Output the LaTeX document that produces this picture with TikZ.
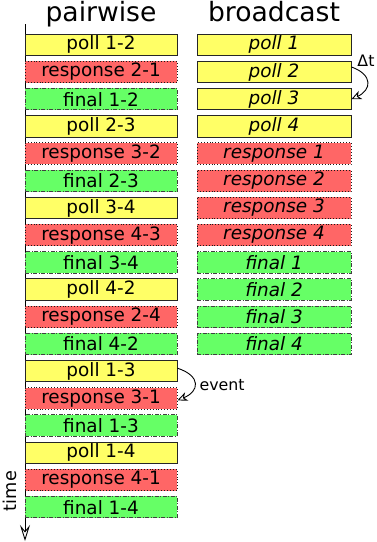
\documentclass[tikz,border=0pt]{standalone}
\usepackage{fontspec}
\setmainfont{DejaVu Sans}
\usetikzlibrary{arrows.meta}
\definecolor{pollc}{RGB}{255,255,102}
\definecolor{respc}{RGB}{255,102,102}
\definecolor{finc}{RGB}{102,255,102}
\tikzset{
  box/.style={minimum height=21.5pt, inner sep=0pt, font=\fontsize{18.4}{19}\selectfont},
  lbox/.style={box, minimum width=152pt},
  rbox/.style={box, minimum width=154pt, font=\fontsize{18.4}{19}\selectfont\itshape},
  pollbox/.style={fill=pollc, draw=black!85, line width=0.9pt},
  respbox/.style={fill=respc, draw=black!90, line width=0.9pt, dotted},
  finbox/.style={fill=finc, draw=black!75, line width=0.9pt, dash pattern=on 4pt off 1.5pt on 1pt off 1.5pt},
  title/.style={font=\fontsize{26.6}{28}\selectfont, anchor=base},
  note/.style={font=\fontsize{15.8}{17}\selectfont},
  curvearr/.style={line width=0.9pt, -{Stealth[open, length=10pt, width=9pt, inset=3pt]}},
}
\begin{document}
\begin{tikzpicture}[x=1pt, y=-1pt]
\useasboundingbox (0,0) rectangle (376,542);
% titles
\node[title] (tp) at (101,21) {pairwise};
\node[title] (tb) at (274,21) {broadcast};
% time axis
\coordinate (ax0) at (25,24);
\coordinate (ax1) at (25,541);
\draw[line width=0.9pt, -{Stealth[open, length=16pt, width=10pt, inset=6pt]}] (ax0) -- (ax1);
\node[rotate=90, font=\fontsize{17.7}{18}\selectfont] (time) at (10,491) {time};
% pairwise column
\foreach \i/\s/\t in {0/pollbox/poll 1-2, 1/respbox/response 2-1, 2/finbox/final 1-2,
  3/pollbox/poll 2-3, 4/respbox/response 3-2, 5/finbox/final 2-3,
  6/pollbox/poll 3-4, 7/respbox/response 4-3, 8/finbox/final 3-4,
  9/pollbox/poll 4-2, 10/respbox/response 2-4, 11/finbox/final 4-2,
  12/pollbox/poll 1-3, 13/respbox/response 3-1, 14/finbox/final 1-3,
  15/pollbox/poll 1-4, 16/respbox/response 4-1, 17/finbox/final 1-4}
  \node[lbox, \s] (a\i) at (101, 44.75+27.2*\i) {\t};
% broadcast column
\foreach \i/\s/\t in {0/pollbox/poll 1, 1/pollbox/poll 2, 2/pollbox/poll 3, 3/pollbox/poll 4,
  4/respbox/response 1, 5/respbox/response 2, 6/respbox/response 3, 7/respbox/response 4,
  8/finbox/final 1, 9/finbox/final 2, 10/finbox/final 3, 11/finbox/final 4}
  \node[rbox, \s] (b\i) at (274, 44.75+27.2*\i) {\t};
% delta t
\draw[curvearr] ([yshift=5pt]b1.east) .. controls +(22,8) and +(20,-9) .. (b2.east);
\node[note] (dt) at (366,61) {Δt};
% event
\draw[curvearr] ([yshift=3pt]a12.east) .. controls +(24,8) and +(22,-9) .. ([yshift=-2pt]a13.east);
\node[note, anchor=west] (ev) at (196,385) {event};
\end{tikzpicture}
\end{document}
